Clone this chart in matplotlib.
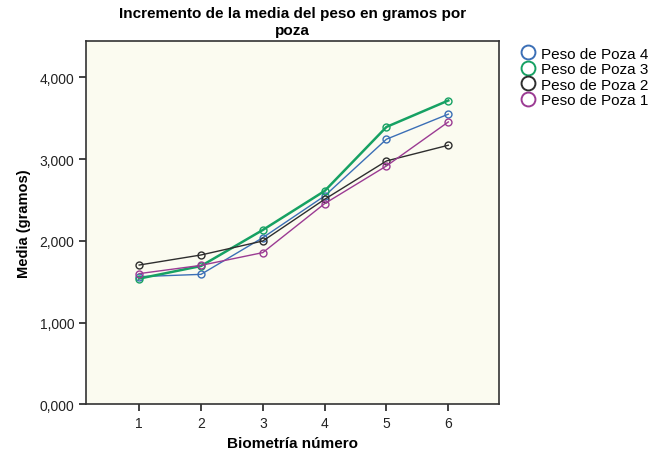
import numpy as np
import matplotlib
matplotlib.use('Agg')
import matplotlib.pyplot as plt
from matplotlib.ticker import FuncFormatter

plt.rcParams['font.family'] = ['Liberation Sans', 'DejaVu Sans']

# Datos
biometria = [1, 2, 3, 4, 5, 6]
poza_4 = [1563, 1591, 2040, 2550, 3244, 3550]
poza_3 = [1539, 1693, 2134, 2611, 3394, 3717]
poza_2 = [1705, 1828, 1999, 2509, 2978, 3170]
poza_1 = [1600, 1701, 1857, 2456, 2917, 3455]

series = [
    ('Peso de Poza 4', poza_4, '#3b6fb6', 1.0),
    ('Peso de Poza 3', poza_3, '#16a163', 1.8),
    ('Peso de Poza 2', poza_2, '#2e2e2e', 1.0),
    ('Peso de Poza 1', poza_1, '#9b3b93', 1.0),
]

fig = plt.figure(figsize=(6.64, 4.52), dpi=100)
ax = fig.add_axes([0.1295, 0.103, 0.622, 0.805])
ax.set_facecolor('#fbfbf0')

handles = []
for label, vals, color, lw in series:
    ax.plot(biometria, vals, color=color, lw=lw, marker='o', ms=5,
            mfc='none', mec=color, mew=1.0)
    h, = ax.plot([], [], ls='none', marker='o', ms=10, mfc='none',
                 mec=color, mew=1.4, label=label)
    handles.append(h)

ax.set_xlim(0.14, 6.82)
ax.set_ylim(0, 4450)
ax.set_xticks(biometria)
ax.set_yticks([0, 1000, 2000, 3000, 4000])
ax.yaxis.set_major_formatter(FuncFormatter(lambda v, p: f'{v / 1000:.3f}'.replace('.', ',')))
ax.tick_params(direction='out', length=5, width=1.2, labelsize=10, colors='#222222')
for s in ax.spines.values():
    s.set_color('#333333')
    s.set_linewidth(1.2)

ax.set_xlabel('Biometría número', fontsize=11, fontweight='bold', labelpad=4)
ax.set_ylabel('Media (gramos)', fontsize=10.5, fontweight='bold', labelpad=6)
ax.set_title('Incremento de la media del peso en gramos por\npoza',
             fontsize=11, fontweight='bold', linespacing=1.2, pad=5)

fig.legend(handles=handles, loc='upper left', bbox_to_anchor=(0.76, 0.925),
           frameon=False, fontsize=11, handletextpad=0.3, labelspacing=0.1,
           handlelength=1.2)

fig.savefig('out.png', dpi=100, facecolor='white')
